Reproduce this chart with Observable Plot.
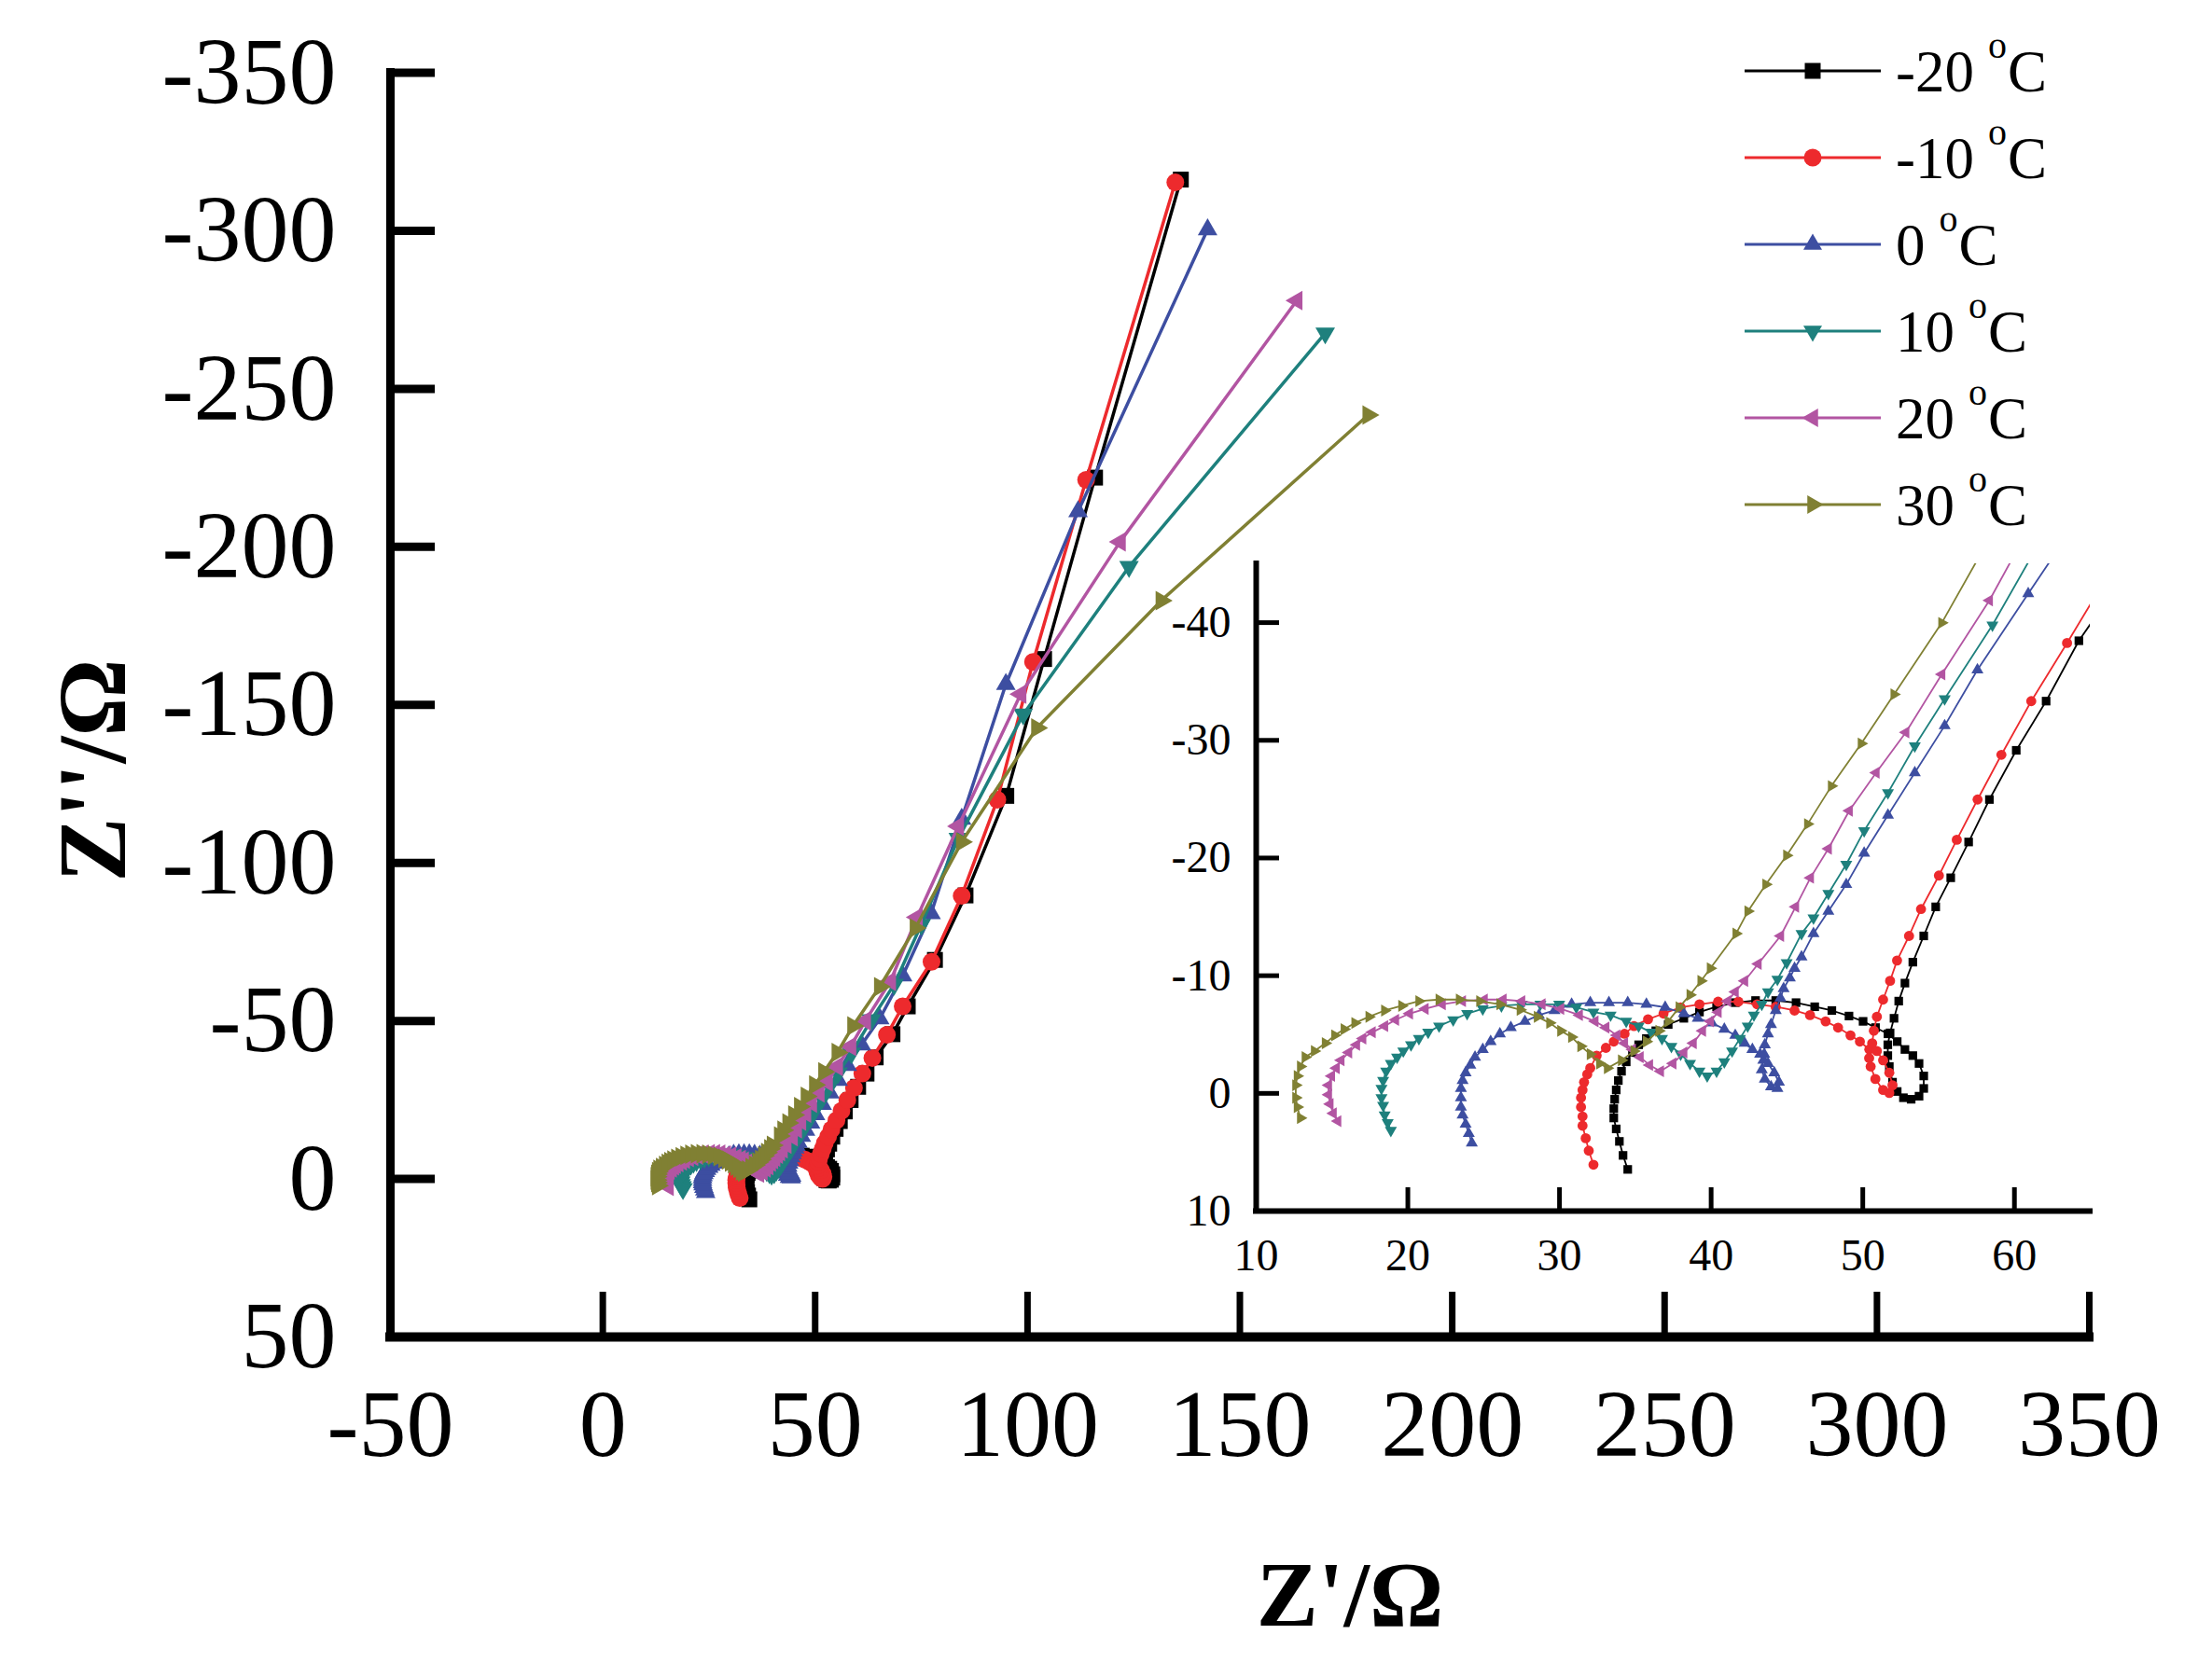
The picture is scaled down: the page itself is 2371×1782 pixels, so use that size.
<!DOCTYPE html>
<html><head><meta charset="utf-8">
<script src="https://cdn.jsdelivr.net/npm/d3@7"></script>
<script src="https://cdn.jsdelivr.net/npm/@observablehq/plot@0.6"></script>
<style>
html,body{margin:0;padding:0;background:#fff;overflow:hidden;}
#wrap{position:relative;width:2371px;height:1782px;background:#fff;}
#wrap > svg, #wrap > figure{position:absolute;margin:0;}
</style></head><body><div id="wrap"></div>
<script>
// ---------- data (Z', Z'') pairs in ohms ----------
const seriesNames = ["-20", "-10", "0", "10", "20", "30"];
const seriesColors = ["#000000", "#ED2A2D", "#3D4EA1", "#1E807D", "#B255A2", "#808033"];

const dataM20 = [[34.50,6.46],[34.19,5.27],[33.95,4.08],[33.74,3.02],[33.58,2.09],[33.58,1.30],[33.64,0.50],[33.74,-0.29],[33.88,-1.09],[34.09,-1.88],[34.40,-2.68],[34.81,-3.47],[35.22,-4.13],[35.73,-4.66],[36.35,-5.32],[37.17,-5.85],[38.20,-6.38],[39.23,-6.91],[40.36,-7.36],[41.59,-7.71],[42.93,-7.89],[44.26,-7.89],[45.60,-7.71],[46.83,-7.36],[47.96,-7.04],[49.09,-6.57],[50.02,-6.12],[50.84,-5.59],[51.66,-5.06],[52.27,-4.40],[52.78,-3.73],[53.30,-3.21],[53.71,-2.54],[54.02,-1.48],[54.02,-0.42],[53.71,0.24],[53.19,0.50],[52.68,0.37],[52.27,-0.16],[51.96,-0.95],[51.75,-2.28],[51.65,-3.21],[51.65,-4.13],[51.80,-5.14],[52.06,-6.38],[52.37,-7.84],[52.78,-9.37],[53.30,-11.15],[54.02,-13.38],[54.81,-15.85],[55.80,-18.32],[56.98,-21.36],[58.35,-24.97],[60.12,-29.15],[62.09,-33.33],[64.25,-38.46],[68.2,-45.8],[71.8,-54.6],[78.2,-69.3],[85.4,-89.7],[95.0,-121.2],[103.9,-164.5],[115.9,-221.9],[136.1,-316.2]];

const dataM10 = [[32.24,6.06],[31.93,4.87],[31.73,3.81],[31.52,2.75],[31.52,1.96],[31.42,1.16],[31.42,0.37],[31.52,-0.29],[31.62,-0.95],[31.83,-1.62],[32.03,-2.15],[32.45,-3.21],[33.06,-3.87],[33.58,-4.40],[34.29,-5.06],[34.91,-5.72],[35.84,-6.30],[36.86,-6.78],[37.99,-7.31],[39.23,-7.57],[40.46,-7.79],[41.80,-7.79],[43.03,-7.57],[44.26,-7.36],[45.50,-7.04],[46.52,-6.65],[47.55,-6.12],[48.37,-5.59],[49.19,-4.93],[49.81,-4.40],[50.43,-3.73],[50.42,-3.00],[50.52,-2.28],[50.83,-1.22],[51.34,-0.29],[51.75,-0.03],[51.96,-0.69],[51.75,-1.75],[51.34,-2.81],[50.93,-3.60],[50.62,-4.26],[50.73,-5.32],[50.93,-6.51],[51.34,-7.97],[51.80,-9.56],[52.26,-11.29],[53.05,-13.38],[53.84,-15.66],[55.02,-18.51],[56.20,-21.55],[57.57,-24.97],[59.14,-28.77],[61.11,-33.33],[63.47,-38.27],[66.9,-45.6],[70.6,-54.6],[77.4,-68.7],[84.5,-89.6],[92.9,-120.0],[101.3,-163.6],[113.8,-221.2],[134.8,-315.3]];

const data0 = [[24.22,4.21],[24.02,3.41],[23.81,2.62],[23.61,1.83],[23.50,1.16],[23.50,0.37],[23.50,-0.42],[23.61,-1.09],[23.81,-1.75],[24.12,-2.41],[24.43,-3.07],[24.94,-3.73],[25.46,-4.40],[26.07,-5.06],[26.79,-5.59],[27.72,-6.12],[28.64,-6.65],[29.67,-7.04],[30.80,-7.57],[32.03,-7.71],[33.26,-7.71],[34.50,-7.71],[35.73,-7.57],[36.97,-7.31],[38.20,-6.78],[39.12,-6.38],[40.05,-5.99],[40.87,-5.46],[41.59,-4.93],[42.21,-4.26],[42.72,-3.73],[43.23,-3.34],[43.44,-2.81],[43.34,-2.01],[43.54,-1.22],[43.95,-0.56],[44.37,-0.42],[44.47,-0.95],[44.16,-1.75],[43.75,-2.54],[43.50,-3.34],[43.54,-4.13],[43.75,-5.06],[43.95,-5.85],[44.26,-7.04],[44.57,-8.10],[44.78,-8.90],[45.19,-9.82],[45.50,-10.62],[45.96,-11.60],[46.75,-13.57],[47.73,-15.47],[48.91,-17.75],[50.09,-20.41],[51.66,-23.64],[53.43,-27.25],[55.40,-31.24],[57.56,-35.99],[60.91,-42.46],[65.2,-50.7],[70.6,-64.3],[77.3,-84.0],[84.5,-113.9],[94.9,-156.5],[111.9,-211.2],[142.4,-300.4]];

const data10 = [[18.88,3.15],[18.67,2.49],[18.47,1.83],[18.37,1.03],[18.26,0.37],[18.26,-0.42],[18.37,-1.09],[18.57,-1.88],[18.88,-2.54],[19.29,-3.07],[19.70,-3.60],[20.21,-4.13],[20.73,-4.66],[21.34,-5.19],[22.06,-5.72],[22.99,-6.25],[23.91,-6.78],[24.94,-7.18],[26.17,-7.44],[27.51,-7.57],[28.74,-7.57],[29.98,-7.57],[31.11,-7.31],[32.24,-6.91],[33.37,-6.65],[34.40,-6.12],[35.22,-5.72],[36.04,-5.19],[36.76,-4.66],[37.38,-3.99],[37.99,-3.34],[38.61,-2.54],[39.23,-1.88],[39.74,-1.48],[40.36,-1.88],[40.87,-2.68],[41.38,-3.60],[41.90,-4.66],[42.41,-5.72],[42.82,-6.65],[43.34,-7.57],[43.75,-8.63],[44.37,-9.69],[44.98,-11.10],[45.96,-13.57],[46.75,-14.90],[47.73,-16.99],[48.91,-19.46],[50.09,-22.31],[51.66,-25.54],[53.43,-29.53],[55.40,-33.52],[58.55,-39.79],[63.2,-50.3],[68.6,-61.5],[75.0,-80.5],[83.7,-107.7],[99.0,-147.0],[123.9,-193.7],[170.1,-267.6]];

const data20 = [[15.38,2.36],[15.08,1.69],[14.87,0.90],[14.77,0.11],[14.77,-0.69],[14.97,-1.48],[15.28,-2.15],[15.59,-2.81],[16.10,-3.47],[16.62,-4.13],[17.03,-4.66],[17.65,-5.19],[18.47,-5.72],[19.19,-6.25],[20.11,-6.78],[21.14,-7.18],[22.27,-7.57],[23.60,-7.84],[25.04,-7.97],[26.28,-7.97],[27.51,-7.84],[28.85,-7.57],[30.08,-7.18],[31.31,-6.65],[32.34,-6.12],[33.06,-5.59],[33.78,-4.93],[34.29,-4.26],[34.81,-3.73],[35.32,-3.07],[35.94,-2.41],[36.66,-1.88],[37.48,-2.54],[38.20,-3.47],[38.82,-4.26],[39.43,-5.32],[39.95,-6.12],[40.46,-6.91],[41.08,-7.84],[41.59,-8.63],[42.21,-9.56],[43.10,-11.00],[44.58,-13.38],[45.57,-15.85],[46.55,-18.32],[47.73,-20.79],[49.11,-24.02],[50.88,-27.25],[52.84,-30.67],[55.21,-35.61],[58.35,-41.89],[61.8,-50.0],[67.7,-62.5],[74.0,-82.8],[83.7,-111.6],[98.4,-153.4],[121.8,-201.6],[163.4,-277.9]];

const data30 = [[12.92,2.09],[12.71,1.16],[12.61,0.37],[12.61,-0.69],[12.71,-1.48],[12.92,-2.28],[13.23,-3.07],[13.84,-3.60],[14.56,-4.26],[15.18,-4.93],[15.80,-5.46],[16.51,-5.98],[17.44,-6.51],[18.47,-7.04],[19.60,-7.44],[20.73,-7.84],[22.06,-7.97],[23.40,-7.97],[24.74,-7.84],[26.07,-7.57],[27.41,-7.10],[28.54,-6.51],[29.36,-5.98],[30.08,-5.32],[30.80,-4.79],[31.41,-4.00],[32.03,-3.34],[32.65,-2.54],[33.16,-2.15],[34.09,-2.81],[34.91,-3.60],[35.73,-4.40],[36.56,-5.32],[37.17,-6.12],[37.89,-7.31],[38.61,-8.37],[39.33,-9.56],[39.95,-10.62],[41.64,-13.57],[42.43,-15.47],[43.61,-17.75],[44.98,-20.22],[46.36,-22.88],[47.93,-26.11],[49.90,-29.72],[52.06,-33.90],[55.21,-39.98],[58.9,-48.4],[65.2,-60.8],[73.6,-79.4],[84.5,-106.6],[102.2,-142.7],[131.5,-183.0],[180.2,-241.7]];

const seriesData = [dataM20, dataM10, data0, data10, data20, data30];

// axes
const xDomain = [-50, 350];
const yDomain = [-350, 50];
const xTicks = [-50, 0, 50, 100, 150, 200, 250, 300, 350];
const yTicks = [-350, -300, -250, -200, -150, -100, -50, 0, 50];
const xLabel = "Z'/Ω";
const yLabel = "Z''/Ω";

const insetXDomain = [10, 65];
const insetYDomain = [-45, 10];
const insetXTicks = [10, 20, 30, 40, 50, 60];
const insetYTicks = [-40, -30, -20, -10, 0, 10];

// ---------- symbols ----------
const SQ3 = Math.sqrt(3);
function triangle(angleDeg) {
  const a = angleDeg * Math.PI / 180, c = Math.cos(a), s = Math.sin(a);
  return { draw(ctx, size) {
    const y = -Math.sqrt(size / (SQ3 * 3));
    const pts = [[0, y * 2], [-SQ3 * y, -y], [SQ3 * y, -y]];
    pts.forEach(([px, py], i) => {
      const X = px * c - py * s, Y = px * s + py * c;
      if (i) ctx.lineTo(X, Y); else ctx.moveTo(X, Y);
    });
    ctx.closePath();
  }};
}
const symbols = [d3.symbolSquare, d3.symbolCircle, triangle(0), triangle(180), triangle(-90), triangle(90)];
const rMain = [9.6, 9.5, 7.8, 7.8, 7.8, 7.8];
const rInset = [5.2, 5.4, 4.8, 4.8, 4.8, 4.8];

const FONT = "'Liberation Serif', 'Times New Roman', serif";
const fmt = d => String(d);

// ---------- main plot ----------
const mainMarks = [
  Plot.ruleX([xDomain[0]], {stroke: "black", strokeWidth: 9, strokeLinecap: "square"}),
  Plot.ruleY([yDomain[1]], {stroke: "black", strokeWidth: 10, strokeLinecap: "square"}),
  Plot.axisX(xTicks, {anchor: "bottom", tickSize: -48, tickPadding: 103, strokeWidth: 7, fontSize: 102, tickFormat: fmt, label: null, fill: "black", fontFamily: FONT}),
  Plot.axisY(yTicks, {anchor: "left", tickSize: -48, tickPadding: 106, strokeWidth: 9, fontSize: 102, tickFormat: fmt, label: null, fill: "black", fontFamily: FONT}),
  Plot.text([xLabel], {frameAnchor: "bottom", dx: 118, dy: 278, text: d => d, fontSize: 99, fontWeight: "bold", fontFamily: FONT, lineAnchor: "middle", fill: "black"}),
  Plot.text([yLabel], {frameAnchor: "left", rotate: -90, dx: -318, dy: 190, text: d => d, fontSize: 104, fontWeight: "bold", fontFamily: FONT, lineAnchor: "middle", fill: "black"})
];
seriesData.forEach((data, i) => {
  mainMarks.push(Plot.line(data, {x: d => d[0], y: d => d[1], stroke: seriesColors[i], strokeWidth: 3.5}));
  mainMarks.push(Plot.dot(data, {x: d => d[0], y: d => d[1], symbol: symbols[i], r: rMain[i], fill: seriesColors[i], stroke: "none"}));
});

const mainPlot = Plot.plot({
  width: 2371, height: 1782,
  marginLeft: 418, marginRight: 132, marginTop: 77.5, marginBottom: 349,
  x: {domain: xDomain},
  y: {domain: yDomain, reverse: true},
  style: {fontFamily: FONT, background: "white", color: "black"},
  marks: mainMarks
});

// ---------- inset plot ----------
const insetMarks = [
  Plot.ruleX([insetXDomain[0]], {stroke: "black", strokeWidth: 6, strokeLinecap: "square"}),
  Plot.ruleY([insetYDomain[1]], {stroke: "black", strokeWidth: 6, strokeLinecap: "square"}),
  Plot.axisX(insetXTicks, {anchor: "bottom", tickSize: -25, tickPadding: 54, strokeWidth: 5, fontSize: 48, tickFormat: fmt, label: null, fill: "black", fontFamily: FONT}),
  Plot.axisY(insetYTicks, {anchor: "left", tickSize: -25, tickPadding: 52, strokeWidth: 5, fontSize: 48, tickFormat: fmt, label: null, fill: "black", fontFamily: FONT})
];
seriesData.forEach((data, i) => {
  insetMarks.push(Plot.line(data, {x: d => d[0], y: d => d[1], stroke: seriesColors[i], strokeWidth: 1.8, clip: true}));
  insetMarks.push(Plot.dot(data, {x: d => d[0], y: d => d[1], symbol: symbols[i], r: rInset[i], fill: seriesColors[i], stroke: "none", clip: true}));
});
const insetPlot = Plot.plot({
  width: 1044, height: 794,
  marginLeft: 120, marginRight: 30, marginTop: 20, marginBottom: 80,
  x: {domain: insetXDomain},
  y: {domain: insetYDomain, reverse: true},
  style: {fontFamily: FONT, background: "transparent", color: "black"},
  marks: insetMarks
});

const wrap = document.getElementById("wrap");
mainPlot.style.left = "0px"; mainPlot.style.top = "0px";
insetPlot.style.left = "1226px"; insetPlot.style.top = "584px";
insetPlot.style.background = "transparent";
wrap.appendChild(mainPlot);
wrap.appendChild(insetPlot);

// ---------- legend ----------
const legendSizes = [289, 283, 173, 173, 173, 173];
const leg = d3.create("svg")
  .attr("width", 541).attr("height", 620)
  .style("left", "1830px").style("top", "0px");
seriesNames.forEach((name, i) => {
  const cy = 76 + i * 93;
  const g = leg.append("g");
  g.append("line").attr("x1", 40).attr("x2", 186).attr("y1", cy).attr("y2", cy)
    .attr("stroke", seriesColors[i]).attr("stroke-width", 3);
  g.append("path").attr("transform", `translate(113,${cy})`)
    .attr("d", d3.symbol().type(symbols[i]).size(legendSizes[i])())
    .attr("fill", seriesColors[i]);
  const t = g.append("text").attr("x", 202).attr("y", cy + 22)
    .attr("font-family", FONT).attr("font-size", 63).attr("fill", "black");
  t.append("tspan").text(name);
  t.append("tspan").attr("dx", 15).attr("dy", -36).attr("font-size", 40).text("o");
  t.append("tspan").attr("dy", 36).attr("dx", 1).attr("font-size", 63).text("C");
});
wrap.appendChild(leg.node());
</script></body></html>
